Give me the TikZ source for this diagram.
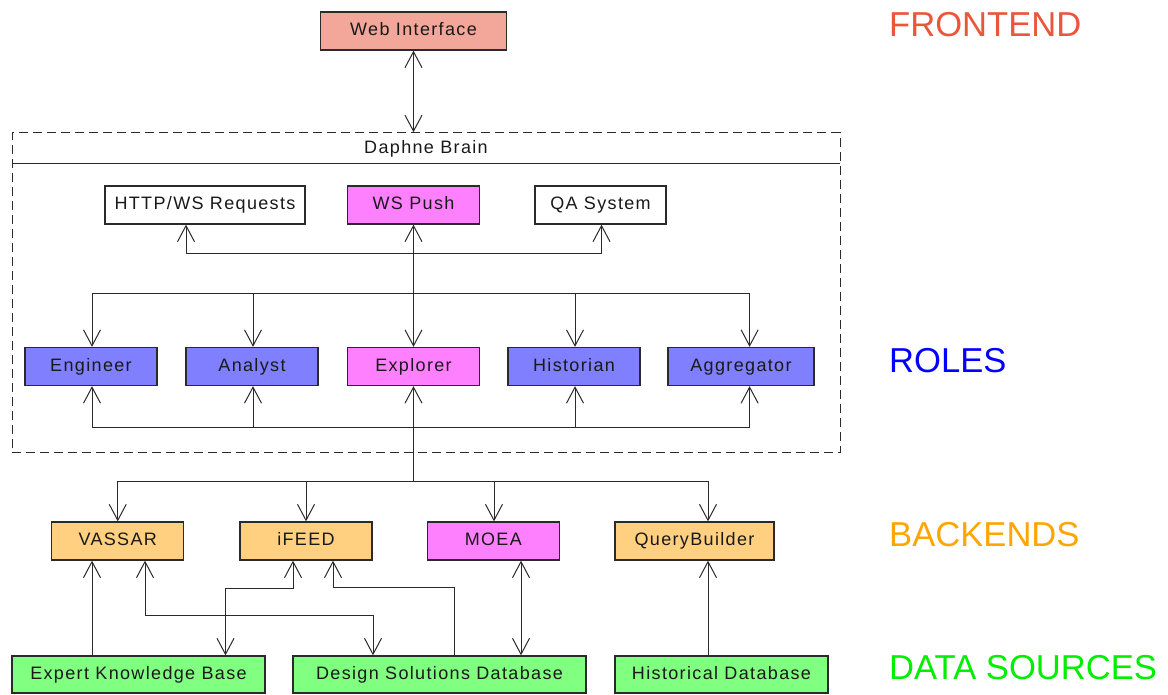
\documentclass[tikz,border=0pt]{standalone}
\usepackage{fontspec}
\usetikzlibrary{arrows.meta}
\newfontfamily\boxfnt[LetterSpace=7.5]{Liberation Sans}
\newfontfamily\labfnt{Liberation Sans}
\definecolor{lnc}{HTML}{2A2A2A}
\definecolor{cweb}{HTML}{F3A79A}
\definecolor{crole}{HTML}{8080FF}
\definecolor{cmag}{HTML}{FF80FF}
\definecolor{cback}{HTML}{FFD080}
\definecolor{cdata}{HTML}{80FF80}
\definecolor{cfront}{HTML}{EA553B}
\definecolor{croles}{HTML}{0000FF}
\definecolor{cbacks}{HTML}{FFA500}
\definecolor{cdatas}{HTML}{00EE00}
\tikzset{
  box/.style={draw=lnc, line width=1.3pt, rectangle, minimum height=38pt, inner sep=0pt,
    text height=13pt, text depth=4pt,
    font=\boxfnt\fontsize{18}{20}\selectfont, text=black!90},
  conn/.style={draw=lnc, line width=1pt, arrows={-Straight Barb[length=16pt,width=17pt]}},
  conn2/.style={draw=lnc, line width=1pt, arrows={Straight Barb[length=16pt,width=17pt]-Straight Barb[length=16pt,width=17pt]}},
  line/.style={draw=lnc, line width=1pt},
  lab/.style={anchor=west, inner sep=0pt, font=\labfnt\fontsize{34.6}{38}\selectfont}
}
\begin{document}
\begin{tikzpicture}[x=1pt,y=-1pt]
\useasboundingbox (0,0) rectangle (1168,694);
% brain container
\node[draw=lnc, line width=1pt, dash pattern=on 9pt off 5pt, minimum width=828pt, minimum height=320pt, inner sep=0pt] (brain) at (426,292.7) {};
\coordinate (hl) at (12,163.3);
\coordinate (hr) at (840,163.3);
\draw[line] (hl) -- (hr);
\node[font=\boxfnt\fontsize{18}{20}\selectfont, text=black!90, text height=13pt, text depth=4pt, inner sep=0pt] (braintitle) at (426,149) {Daphne Brain};
% nodes
\node[box, fill=cweb, minimum width=186pt] (web) at (413.5,31) {Web Interface};
\node[box, fill=white, minimum width=200pt] (http) at (205,205) {HTTP/WS Requests};
\node[box, fill=cmag, minimum width=132pt] (wsp) at (413.5,205) {WS Push};
\node[box, fill=white, minimum width=131pt] (qa) at (600.5,205) {QA System};
\node[box, fill=crole, minimum width=132pt] (eng) at (91,366.5) {Engineer};
\node[box, fill=crole, minimum width=132pt] (ana) at (252,366.5) {Analyst};
\node[box, fill=cmag, minimum width=132pt] (exp) at (413.5,366.5) {Explorer};
\node[box, fill=crole, minimum width=132pt] (his) at (574,366.5) {Historian};
\node[box, fill=crole, minimum width=146pt] (agg) at (741,366.5) {Aggregator};
\node[box, fill=cback, minimum width=132pt] (vas) at (117.75,541) {VASSAR};
\node[box, fill=cback, minimum width=132pt] (ifd) at (306,541) {iFEED};
\node[box, fill=cmag, minimum width=132pt] (moea) at (493.3,541) {MOEA};
\node[box, fill=cback, minimum width=159pt] (qb) at (694.5,541) {QueryBuilder};
\node[box, fill=cdata, minimum width=253pt, minimum height=37pt] (ekb) at (138.5,674.5) {Expert Knowledge Base};
\node[box, fill=cdata, minimum width=293pt, minimum height=37pt] (dsd) at (439.5,674.5) {Design Solutions Database};
\node[box, fill=cdata, minimum width=213pt, minimum height=37pt] (hdb) at (721.5,674.5) {Historical Database};
% labels
\node[lab, text=cfront] (lfront) at (889,25) {FRONTEND};
\node[lab, text=croles] (lroles) at (889,360.5) {ROLES};
\node[lab, text=cbacks] (lbacks) at (889,535) {BACKENDS};
\node[lab, text=cdatas] (ldata) at (889,668) {DATA SOURCES};
% junctions
\coordinate (tA) at (413.5,253);
\coordinate (tB) at (413.5,293);
\coordinate (tC) at (413.5,427.7);
\coordinate (tD) at (413.5,481.7);
% connectors
\draw[conn2] (web.south) -- (web.south |- brain.north);
\draw[conn2] (wsp.south) -- (exp.north);
\draw[conn] (tA) -| ([xshift=-19pt]http.south);
\draw[conn] (tA) -| ([xshift=1pt]qa.south);
\draw[conn] (tB) -| ([xshift=1pt]eng.north);
\draw[conn] (tB) -| ([xshift=1pt]ana.north);
\draw[conn] (tB) -| ([xshift=1pt]his.north);
\draw[conn] (tB) -| ([xshift=8.6pt]agg.north);
\draw[conn] (tC) -| ([xshift=1pt]eng.south);
\draw[conn] (tC) -| ([xshift=1pt]ana.south);
\draw[conn] (tC) -| ([xshift=1pt]his.south);
\draw[conn] (tC) -| ([xshift=8.6pt]agg.south);
\draw[conn] (tD) -- (exp.south);
\draw[conn] (tD) -| (vas.north);
\draw[conn] (tD) -| (ifd.north);
\draw[conn] (tD) -| ([xshift=0.7pt]moea.north);
\draw[conn] (tD) -| ([xshift=13.5pt]qb.north);
% data connectors
\draw[conn] ([xshift=-46.5pt]ekb.north) -- ([xshift=-46.5pt]ekb.north |- vas.south);
\draw[conn2] ([xshift=27.25pt]vas.south) -- ++(0,55) -| ([xshift=-66.5pt]dsd.north);
\draw[conn2] ([xshift=-13pt]ifd.south) -- ++(0,28) -| ([xshift=87pt]ekb.north);
\draw[conn] ([xshift=14.5pt]dsd.north) -- ++(0,-68) -| ([xshift=27pt]ifd.south);
\draw[conn2] ([xshift=81.5pt]dsd.north) -- ([xshift=81.5pt]dsd.north |- moea.south);
\draw[conn] ([xshift=-13.5pt]hdb.north) -- ([xshift=13.5pt]qb.south);
\end{tikzpicture}
\end{document}
